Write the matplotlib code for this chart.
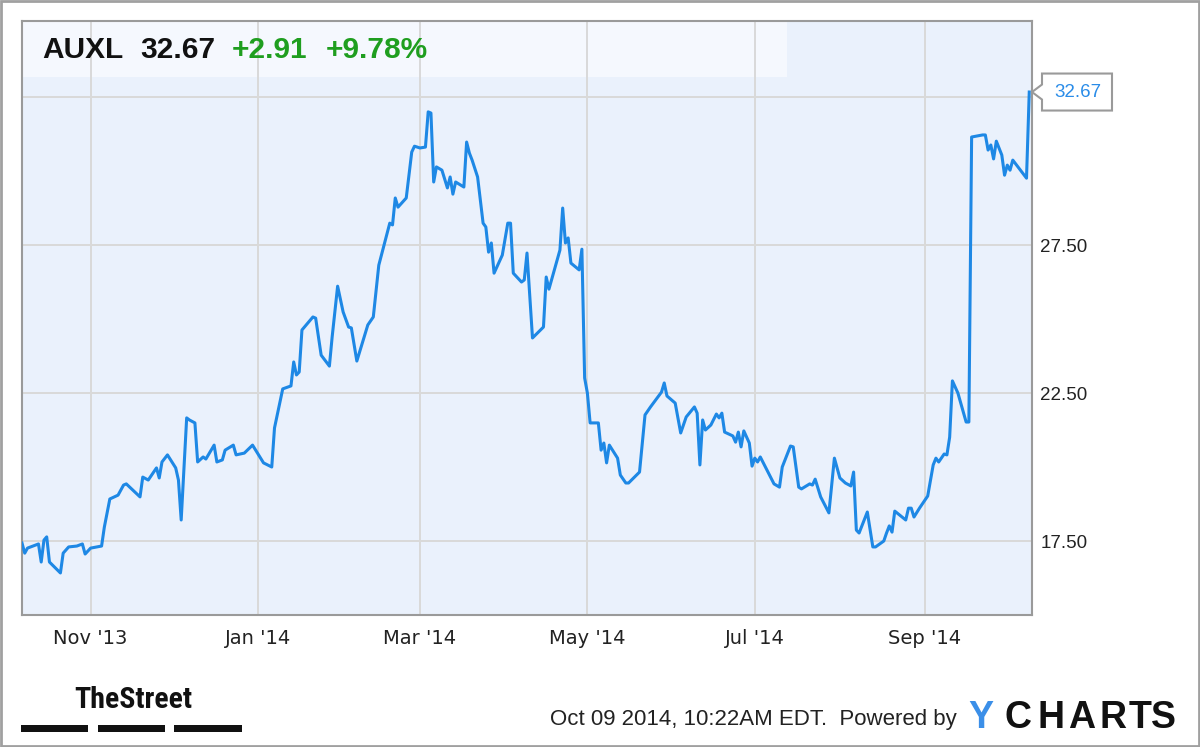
import matplotlib
matplotlib.use("Agg")
import matplotlib.pyplot as plt
import matplotlib.dates as mdates
from matplotlib.patches import Rectangle, Polygon
from matplotlib import font_manager
import pandas as pd

ticker = "AUXL"
dates = [
    "2013-10-07", "2013-10-08", "2013-10-09", "2013-10-13", "2013-10-14", "2013-10-15", "2013-10-16",
    "2013-10-17", "2013-10-21", "2013-10-22", "2013-10-24", "2013-10-27", "2013-10-29", "2013-10-30",
    "2013-11-01", "2013-11-05", "2013-11-06", "2013-11-08", "2013-11-11", "2013-11-13", "2013-11-14",
    "2013-11-19", "2013-11-20", "2013-11-22", "2013-11-25", "2013-11-26", "2013-11-27", "2013-11-29",
    "2013-12-02", "2013-12-03", "2013-12-04", "2013-12-06", "2013-12-07", "2013-12-09", "2013-12-10",
    "2013-12-12", "2013-12-13", "2013-12-16", "2013-12-17", "2013-12-19", "2013-12-20", "2013-12-23",
    "2013-12-24", "2013-12-27", "2013-12-30", "2014-01-03", "2014-01-06", "2014-01-07", "2014-01-10",
    "2014-01-13", "2014-01-14", "2014-01-15", "2014-01-16", "2014-01-17", "2014-01-21", "2014-01-22",
    "2014-01-24", "2014-01-27", "2014-01-28", "2014-01-30", "2014-02-01", "2014-02-03", "2014-02-04",
    "2014-02-06", "2014-02-10", "2014-02-12", "2014-02-14", "2014-02-18", "2014-02-19", "2014-02-20",
    "2014-02-21", "2014-02-24", "2014-02-26", "2014-02-27", "2014-03-01", "2014-03-03", "2014-03-04",
    "2014-03-05", "2014-03-06", "2014-03-07", "2014-03-09", "2014-03-11", "2014-03-12", "2014-03-13",
    "2014-03-14", "2014-03-17", "2014-03-18", "2014-03-19", "2014-03-20", "2014-03-22", "2014-03-24",
    "2014-03-25", "2014-03-26", "2014-03-27", "2014-03-28", "2014-03-31", "2014-04-02", "2014-04-03",
    "2014-04-04", "2014-04-07", "2014-04-08", "2014-04-09", "2014-04-11", "2014-04-15", "2014-04-16",
    "2014-04-17", "2014-04-21", "2014-04-22", "2014-04-23", "2014-04-24", "2014-04-25", "2014-04-28",
    "2014-04-29", "2014-04-30", "2014-05-01", "2014-05-02", "2014-05-05", "2014-05-06", "2014-05-07",
    "2014-05-08", "2014-05-09", "2014-05-12", "2014-05-13", "2014-05-15", "2014-05-16", "2014-05-20",
    "2014-05-22", "2014-05-24", "2014-05-28", "2014-05-29", "2014-05-30", "2014-06-02", "2014-06-04",
    "2014-06-06", "2014-06-09", "2014-06-10", "2014-06-11", "2014-06-12", "2014-06-13", "2014-06-15",
    "2014-06-17", "2014-06-18", "2014-06-19", "2014-06-20", "2014-06-23", "2014-06-24", "2014-06-25",
    "2014-06-26", "2014-06-27", "2014-06-29", "2014-06-30", "2014-07-01", "2014-07-02", "2014-07-03",
    "2014-07-08", "2014-07-10", "2014-07-11", "2014-07-14", "2014-07-15", "2014-07-17", "2014-07-18",
    "2014-07-21", "2014-07-22", "2014-07-23", "2014-07-25", "2014-07-28", "2014-07-30", "2014-08-01",
    "2014-08-03", "2014-08-05", "2014-08-06", "2014-08-07", "2014-08-08", "2014-08-11", "2014-08-13",
    "2014-08-14", "2014-08-17", "2014-08-18", "2014-08-19", "2014-08-20", "2014-08-21", "2014-08-25",
    "2014-08-26", "2014-08-27", "2014-08-28", "2014-08-30", "2014-09-02", "2014-09-04", "2014-09-05",
    "2014-09-06", "2014-09-08", "2014-09-09", "2014-09-10", "2014-09-11", "2014-09-13", "2014-09-16",
    "2014-09-17", "2014-09-18", "2014-09-22", "2014-09-23", "2014-09-24", "2014-09-25", "2014-09-26",
    "2014-09-27", "2014-09-29", "2014-09-30", "2014-10-01", "2014-10-02", "2014-10-03", "2014-10-08",
    "2014-10-09",
]
prices = [
    17.43, 17.09, 17.26, 17.40, 16.79, 17.53, 17.64,
    16.79, 16.42, 17.09, 17.30, 17.33, 17.40, 17.06,
    17.26, 17.33, 17.97, 18.92, 19.05, 19.39, 19.43,
    18.99, 19.66, 19.56, 19.97, 19.63, 20.17, 20.41,
    19.97, 19.56, 18.21, 21.66, 21.59, 21.49, 20.17,
    20.34, 20.27, 20.74, 20.17, 20.24, 20.57, 20.74,
    20.41, 20.47, 20.74, 20.14, 20.00, 21.32, 22.64,
    22.74, 23.55, 23.11, 23.21, 24.63, 25.07, 25.03,
    23.78, 23.41, 24.39, 26.11, 25.24, 24.73, 24.70,
    23.58, 24.80, 25.07, 26.82, 28.24, 28.18, 29.09,
    28.78, 29.09, 30.64, 30.84, 30.78, 30.81, 32.00,
    31.96, 29.63, 30.14, 30.03, 29.43, 29.80, 29.22,
    29.63, 29.46, 30.98, 30.61, 30.37, 29.80, 28.24,
    28.11, 27.26, 27.57, 26.55, 27.16, 28.24, 28.24,
    26.55, 26.25, 26.32, 27.23, 24.36, 24.73, 26.42,
    26.01, 27.33, 28.75, 27.57, 27.74, 26.89, 26.66,
    27.36, 23.01, 22.50, 21.49, 21.49, 20.57, 20.81,
    20.14, 20.74, 20.30, 19.73, 19.46, 19.46, 19.83,
    21.76, 22.03, 22.53, 22.84, 22.40, 22.16, 21.15,
    21.69, 22.03, 21.82, 20.07, 21.59, 21.25, 21.42,
    21.79, 21.66, 21.82, 21.18, 21.05, 20.84, 21.18,
    20.68, 21.22, 20.81, 20.03, 20.30, 20.17, 20.34,
    19.43, 19.32, 20.00, 20.71, 20.68, 19.32, 19.26,
    19.43, 19.39, 19.59, 18.99, 18.45, 20.30, 19.63,
    19.46, 19.36, 19.83, 17.87, 17.77, 18.48, 17.30,
    17.30, 17.50, 17.77, 18.01, 17.80, 18.51, 18.21,
    18.61, 18.61, 18.31, 18.61, 19.02, 20.07, 20.30,
    20.17, 20.44, 20.41, 21.01, 22.91, 22.50, 21.52,
    21.52, 31.15, 31.22, 31.22, 30.71, 30.88, 30.41,
    31.01, 30.54, 29.86, 30.20, 30.03, 30.37, 29.76,
    32.67,
]
x_tick_dates = ["2013-11-01", "2014-01-01", "2014-03-01", "2014-05-01", "2014-07-01", "2014-09-01"]
x_tick_labels = ["Nov '13", "Jan '14", "Mar '14", "May '14", "Jul '14", "Sep '14"]
y_ticks = [17.5, 22.5, 27.5, 32.5]
y_tick_labels = ["17.50", "22.50", "27.50", ""]
timestamp_text = "Oct 09 2014, 10:22AM EDT.  Powered by"
brand_left = "TheStreet"
brand_right = ["Y", "C", "H", "A", "R", "T", "S"]

W, H = 1200, 747
fig = plt.figure(figsize=(W / 100, H / 100), dpi=100)
fig.patch.set_facecolor("white")

def fx(px):
    return px / W

def fy(py):
    return 1 - py / H

avail = {f.name for f in font_manager.fontManager.ttflist}
base_font = "Liberation Sans" if "Liberation Sans" in avail else "DejaVu Sans"
narrow_font = None
for cand in ["Liberation Sans Narrow", "DejaVu Sans Condensed", "Roboto Condensed",
             "Open Sans Condensed", "Noto Sans Condensed"]:
    if cand in avail:
        narrow_font = cand
        break
if narrow_font is None:
    for f in font_manager.fontManager.ttflist:
        if "Narrow" in f.name or "Condensed" in f.name:
            narrow_font = f.name
            break

# outer frame
fig.add_artist(Rectangle((0.001, 0.001), 0.998, 0.997, transform=fig.transFigure,
                         facecolor="none", edgecolor="#a0a0a0", lw=2))

L, R, T, B = 22, 1032, 21, 615
ax = fig.add_axes([fx(L), fy(B), fx(R - L), (B - T) / H])
ax.set_facecolor("#eaf1fc")

d = pd.to_datetime(dates)
ax.plot(d, prices, color="#1e88e5", lw=2.2, solid_joinstyle="round", zorder=3)

ax.set_xlim(pd.Timestamp("2013-10-07"), pd.Timestamp("2014-10-10"))
ax.set_ylim(15.0, 35.07)

ax.set_axisbelow(True)
ax.set_xticks(pd.to_datetime(x_tick_dates))
ax.set_xticklabels(x_tick_labels)
ax.set_yticks(y_ticks)
ax.set_yticklabels(y_tick_labels)
ax.yaxis.tick_right()
ax.grid(True, color="#d9d9d9", lw=1.4)
ax.tick_params(axis="both", length=0)
ax.tick_params(axis="x", pad=10, labelsize=14, labelcolor="#222222")
ax.tick_params(axis="y", pad=6, labelsize=13.5, labelcolor="#222222")
for lab in ax.get_xticklabels():
    lab.set_family("DejaVu Sans")
for lab in ax.get_yticklabels():
    lab.set_family(base_font)
for s in ax.spines.values():
    s.set_color("#9a9a9a")
    s.set_linewidth(1.5)

# header band
ax.add_patch(Rectangle((0, (B - 77) / (B - T)), (787 - L) / (R - L), (77 - T) / (B - T),
                       transform=ax.transAxes, facecolor="#f5f8fe", edgecolor="none", zorder=0.2))

# header text
last = prices[-1]
prev = prices[-2]
chg = last - prev
pct = chg / prev * 100
hy = fy(49.5)
hs = 21.5
fig.text(fx(42), hy, ticker, fontsize=hs, fontweight="bold", family=base_font, color="#111111", va="center")
fig.text(fx(140), hy, f"{last:.2f}", fontsize=hs, fontweight="bold", family=base_font, color="#111111", va="center")
fig.text(fx(232), hy, f"+{chg:.2f}", fontsize=hs, fontweight="bold", family=base_font, color="#1f9e1f", va="center")
fig.text(fx(326), hy, f"+{pct:.2f}%", fontsize=hs, fontweight="bold", family=base_font, color="#1f9e1f", va="center")

# price flag on the right
fig.canvas.draw()
tip = ax.transData.transform((mdates.date2num(d[-1]), last))
ty = H - tip[1]
tx = R
bx0, bx1 = 1042, 1112
by0, by1 = ty - 18.5, ty + 18.5
pts_px = [(tx, ty), (bx0, ty - 7.5), (bx0, by0), (bx1, by0), (bx1, by1), (bx0, by1), (bx0, ty + 7.5)]
fig.add_artist(Polygon([(fx(px), fy(py)) for px, py in pts_px], closed=True, transform=fig.transFigure,
                       facecolor="white", edgecolor="#9a9a9a", lw=1.5, zorder=5))
fig.text(fx((bx0 + bx1) / 2 + 1), fy(ty), f"{last:.2f}", fontsize=13.5, family=base_font,
         color="#2a8ce8", ha="center", va="center", zorder=6)

# footer: TheStreet logo
if narrow_font is not None:
    fig.text(fx(74), fy(700), brand_left, fontsize=21.5, fontweight="bold", family=narrow_font,
             color="#111111", va="center")
else:
    fig.text(fx(74), fy(700), brand_left, fontsize=19, fontweight="bold", family=base_font,
             color="#111111", va="center")
for x0, x1 in [(21, 88), (98, 165), (174, 242)]:
    fig.add_artist(Rectangle((fx(x0), fy(732)), fx(x1 - x0), 7 / H, transform=fig.transFigure,
                             facecolor="#111111", edgecolor="none"))

# footer: timestamp and YCHARTS
fig.text(fx(550), fy(719), timestamp_text, fontsize=16, family=base_font, color="#222222", va="center")
letter_x = [968, 1005, 1037, 1068, 1099, 1129, 1151]
for ch, lx in zip(brand_right, letter_x):
    fig.text(fx(lx), fy(718), ch, fontsize=27, fontweight="bold", family=base_font,
             color="#3b8fe8" if ch == "Y" else "#111111", va="center")

fig.savefig("out.png", dpi=100, facecolor="white")
